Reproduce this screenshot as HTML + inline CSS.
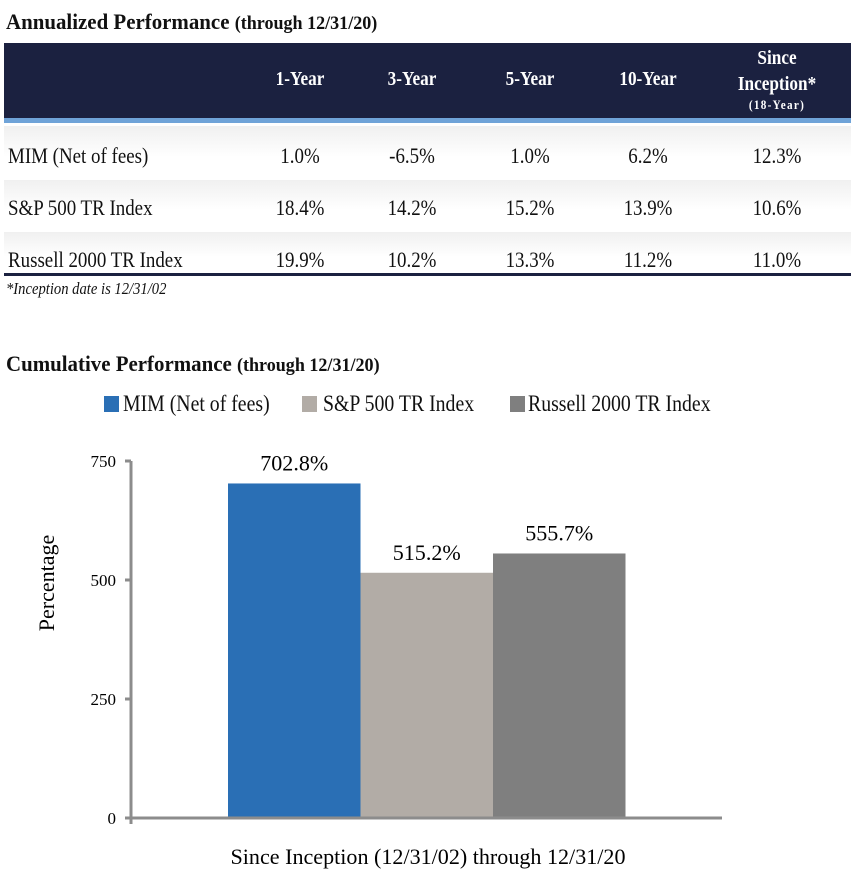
<!DOCTYPE html>
<html><head><meta charset="utf-8"><style>
body{margin:0;width:857px;height:877px;background:#fff;position:relative;overflow:hidden;font-family:"Liberation Serif",serif;color:#111}
.a{position:absolute;white-space:nowrap}
.c{transform:translateX(-50%) scaleX(0.86)}
.l{transform-origin:left center;transform:scaleX(0.86)}
.t{transform-origin:left center;transform:scaleX(0.95)}
.h{color:#fff;font-weight:bold;font-size:20px}
.v{font-size:22px}
</style></head><body>
<div class="a t" style="left:6px;top:9px;font-size:22px;font-weight:bold">Annualized Performance <span style="font-size:19px">(through 12/31/20)</span></div>
<div class="a" style="left:4px;top:43px;width:847px;height:75px;background:#1b2140"></div>
<div class="a" style="left:4px;top:118px;width:847px;height:5px;background:#6fa3d8"></div>
<div class="a" style="left:4px;top:126px;width:847px;height:52px;background:linear-gradient(#f0f0f0,#fff 60%)"></div>
<div class="a" style="left:4px;top:180px;width:847px;height:50px;background:linear-gradient(#f0f0f0,#fff 60%)"></div>
<div class="a" style="left:4px;top:232px;width:847px;height:42px;background:linear-gradient(#f0f0f0,#fff 60%)"></div>
<div class="a" style="left:4px;top:273px;width:847px;height:3px;background:#1b2140"></div>
<div class="a h c" style="left:300px;top:68px">1-Year</div>
<div class="a h c" style="left:412px;top:68px">3-Year</div>
<div class="a h c" style="left:530px;top:68px">5-Year</div>
<div class="a h c" style="left:648px;top:68px">10-Year</div>
<div class="a h c" style="left:777px;top:45px;text-align:center;line-height:26px">Since<br>Inception*</div>
<div class="a c" style="left:777px;top:97px;color:#fff;font-weight:bold;font-size:13px;letter-spacing:1.5px">(18-Year)</div>
<div id="rows"></div>
<div class="a l" style="left:6px;top:279px;font-style:italic;font-size:17px">*Inception date is 12/31/02</div>
<div class="a t" style="left:6px;top:351px;font-size:22px;font-weight:bold">Cumulative Performance <span style="font-size:19px">(through 12/31/20)</span></div>
<div class="a" style="left:104px;top:391px;font-size:23px">
<span style="position:absolute;left:0;top:5px;width:15px;height:16px;background:#2a6fb5"></span>
<span class="a l" style="left:19px;top:0">MIM (Net of fees)</span>
<span style="position:absolute;left:198px;top:5px;width:15px;height:16px;background:#b2aca6"></span>
<span class="a l" style="left:219px;top:0">S&amp;P 500 TR Index</span>
<span style="position:absolute;left:406px;top:5px;width:15px;height:16px;background:#7f7f7f"></span>
<span class="a l" style="left:424px;top:0">Russell 2000 TR Index</span>
</div>
<svg class="a" style="left:0;top:0" width="857" height="877" id="chart"></svg>
<script>
const rowLabels=["MIM (Net of fees)","S&P 500 TR Index","Russell 2000 TR Index"];
const rowMIM=["1.0%","-6.5%","1.0%","6.2%","12.3%"];
const rowSP=["18.4%","14.2%","15.2%","13.9%","10.6%"];
const rowRussell=["19.9%","10.2%","13.3%","11.2%","11.0%"];
const series=["MIM (Net of fees)","S&P 500 TR Index","Russell 2000 TR Index"];
const values=[702.8,515.2,555.7];
const valueLabels=["702.8%","515.2%","555.7%"];
const ticks=[0,250,500,750];
const category="Since Inception (12/31/02) through 12/31/20";

const colX=[300,412,530,648,777];
const rowY=[143,195,247];
const rowsEl=document.getElementById('rows');
[rowMIM,rowSP,rowRussell].forEach((r,i)=>{
  const lab=document.createElement('div');
  lab.className='a l v';lab.style.left='8px';lab.style.top=rowY[i]+'px';lab.textContent=rowLabels[i];
  
  
  rowsEl.appendChild(lab);
  r.forEach((t,j)=>{
    const d=document.createElement('div');
    d.className='a c v';d.style.left=colX[j]+'px';d.style.top=rowY[i]+'px';d.textContent=t;
    
    
    rowsEl.appendChild(d);
  });
});

const svg=document.getElementById('chart');const NS='http://www.w3.org/2000/svg';
const FF='Liberation Serif, serif';
const y0=818,yTop=461,axX=131,axEnd=722;
const y=v=>y0-(v/750)*(y0-yTop);
function mk(t,a){const e=document.createElementNS(NS,t);for(const k in a)e.setAttribute(k,a[k]);svg.appendChild(e);return e;}
const colors=["#2a6fb5","#b2aca6","#7f7f7f"];
const bx0=228,bw=132.5;
values.forEach((v,i)=>{
  const r=mk('rect',{x:bx0+i*bw,y:y(v),width:bw,height:y0-y(v),fill:colors[i]});
  
  
  const t=mk('text',{x:bx0+i*bw+bw/2,y:y(v)-13,'text-anchor':'middle','font-size':22,'font-family':FF,textLength:68,lengthAdjust:'spacingAndGlyphs'});
  t.textContent=valueLabels[i];
  
  
});
const ya=mk('line',{x1:axX,y1:yTop,x2:axX,y2:y0+6,stroke:'#8c8c8c','stroke-width':3});


const xa=mk('line',{x1:axX-6,y1:y0,x2:axEnd,y2:y0,stroke:'#8c8c8c','stroke-width':3});


ticks.forEach(tv=>{
  const l=mk('line',{x1:axX-6,y1:y(tv),x2:axX,y2:y(tv),stroke:'#8c8c8c','stroke-width':3});
  
  
  const t=mk('text',{x:116,y:y(tv)+6,'text-anchor':'end','font-size':17,'font-family':FF});
  t.textContent=tv;
  
  
});
const yt=mk('text',{x:0,y:0,'text-anchor':'middle','font-size':22,'font-family':FF,transform:'translate(54,583) rotate(-90)'});
yt.textContent='Percentage';


const xt=mk('text',{x:428,y:864,'text-anchor':'middle','font-size':22,'font-family':FF,textLength:395,lengthAdjust:'spacingAndGlyphs'});
xt.textContent=category;


</script>
</body></html>
